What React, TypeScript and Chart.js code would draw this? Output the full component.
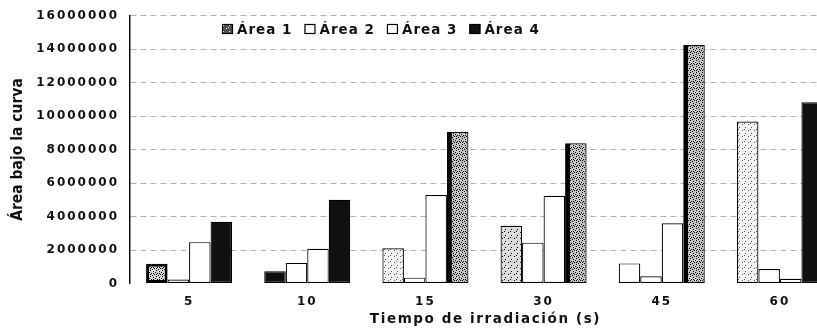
import { useEffect, useRef } from 'react';
import { Chart, registerables } from 'chart.js';

Chart.register(...registerables);

// Irradiation times (s) and the area under the curve for each of the four peaks
const categories = ['5', '10', '15', '30', '45', '60'];
const seriesLabels = ['Área 1', 'Área 2', 'Área 3', 'Área 4'];
const area1 = [1180000, 730000, 2100000, 3450000, 1200000, 9670000];
const area2 = [240000, 1230000, 350000, 2440000, 430000, 870000];
const area3 = [2470000, 2070000, 5280000, 5240000, 3600000, 280000];
const area4 = [3680000, 5000000, 9060000, 8370000, 14240000, 10820000];
const yMax = 16000000;
const yStep = 2000000;

const xTitle = 'Tiempo de irradiación (s)';
const yTitle = 'Área bajo la curva';

const TICK_FONT = { family: '"DejaVu Sans", sans-serif', weight: 'bold' as const, size: 12 };

// Small repeating stipple used for the dotted fills
function stipple(bg: string, ink: string, dots: number[][]): CanvasPattern | string {
  const c = document.createElement('canvas');
  c.width = 6;
  c.height = 6;
  const g = c.getContext('2d');
  if (!g) return bg;
  g.fillStyle = bg;
  g.fillRect(0, 0, 6, 6);
  g.fillStyle = ink;
  dots.forEach(([x, y]) => g.fillRect(x, y, 1, 1));
  return g.createPattern(c, 'repeat') || bg;
}

const DOTS_DENSE = [[0, 0], [3, 1], [1, 3], [4, 4], [5, 2], [2, 5], [0, 4], [3, 3]];
const DOTS_SPARSE = [[1, 1], [4, 4], [0, 3]];

export default function App() {
  const canvasRef = useRef<HTMLCanvasElement | null>(null);

  useEffect(() => {
    const canvas = canvasRef.current;
    if (!canvas) return;

    const white = '#ffffff';
    const black = '#101010';
    const darkDots = stipple('#d4d4d4', '#000', DOTS_DENSE);
    const lightDots = stipple('#f4f4f4', '#555', DOTS_SPARSE);
    const greyDots = stipple('#dcdcdc', '#000', DOTS_SPARSE);
    const heavyDots = stipple('#c4c4c4', '#000', DOTS_DENSE);
    const legendDark = stipple('#505050', '#fff', DOTS_SPARSE);

    const thin = 1.2;
    const side = (left: number) => ({ left, top: thin, right: thin, bottom: thin });

    const fills = [
      [darkDots, black, lightDots, greyDots, white, lightDots],
      [white, white, white, white, white, white],
      [white, white, white, white, white, white],
      [black, black, heavyDots, heavyDots, heavyDots, black],
    ];
    const borders = [
      [3, thin, thin, thin, thin, thin],
      [thin, thin, thin, thin, thin, thin],
      [thin, thin, thin, thin, thin, thin],
      [thin, thin, side(5), side(5), side(5), thin],
    ];
    const legendFills = [legendDark, white, white, black];
    const values = [area1, area2, area3, area4];

    const frameText = {
      id: 'frameText',
      // the axis numbers are set wide, so spread their letters while the scales draw
      beforeDraw(chart: Chart) {
        (chart.ctx as any).letterSpacing = '2px';
      },
      beforeDatasetsDraw(chart: Chart) {
        (chart.ctx as any).letterSpacing = '0px';
      },
      afterDraw(chart: Chart) {
        const { ctx, chartArea } = chart;

        // vertical axis title
        ctx.save();
        (ctx as any).letterSpacing = '0px';
        ctx.font = 'bold 15.5px "Liberation Sans Narrow", "DejaVu Sans Condensed", sans-serif';
        ctx.fillStyle = '#111';
        ctx.textAlign = 'center';
        ctx.textBaseline = 'middle';
        ctx.translate(17.5, (chartArea.top + chartArea.bottom) / 2);
        ctx.rotate(-Math.PI / 2);
        ctx.fillText(yTitle, 0, 0);
        ctx.restore();

        // horizontal axis title, widely spaced
        ctx.save();
        ctx.font = 'bold 13.5px "DejaVu Sans", sans-serif';
        (ctx as any).letterSpacing = '1.6px';
        ctx.fillStyle = '#111';
        ctx.textAlign = 'center';
        ctx.textBaseline = 'middle';
        ctx.fillText(xTitle, (chartArea.left + chartArea.right) / 2 + 1, 319);
        ctx.restore();

        // legend row inside the plot
        ctx.save();
        ctx.font = 'bold 13.5px "DejaVu Sans", sans-serif';
        (ctx as any).letterSpacing = '1px';
        ctx.textAlign = 'left';
        ctx.textBaseline = 'middle';
        let x = chartArea.left + 92;
        const cy = 29;
        seriesLabels.forEach((label, i) => {
          ctx.fillStyle = legendFills[i] as any;
          ctx.fillRect(x, cy - 5, 11, 10);
          ctx.strokeStyle = '#000';
          ctx.lineWidth = 1.2;
          ctx.strokeRect(x + 0.5, cy - 4.5, 10, 9);
          ctx.fillStyle = '#111';
          ctx.fillText(label, x + 15, cy + 1);
          x += 15 + ctx.measureText(label).width + 12;
        });
        ctx.restore();
      },
    };

    const chart = new Chart(canvas, {
      type: 'bar',
      data: {
        labels: categories,
        datasets: seriesLabels.map((label, i) => ({
          label,
          data: values[i],
          backgroundColor: fills[i] as any,
          borderColor: '#000',
          borderWidth: borders[i] as any,
          borderSkipped: false,
          categoryPercentage: 0.728,
          barPercentage: 1,
        })),
      },
      options: {
        responsive: false,
        animation: false,
        layout: { padding: { top: 15.5, right: 6, left: 0, bottom: 0 } },
        plugins: {
          legend: { display: false },
          tooltip: { enabled: false },
          title: { display: false },
        },
        scales: {
          x: {
            grid: { display: false, drawTicks: false },
            border: { display: false },
            ticks: { font: TICK_FONT, color: '#111', padding: 11, maxRotation: 0 },
            afterFit: (scale: any) => {
              scale.height = 46.5;
            },
          },
          y: {
            min: 0,
            max: yMax,
            ticks: {
              stepSize: yStep,
              font: TICK_FONT,
              color: '#111',
              padding: 3,
              callback: (v: any) => String(v),
            },
            grid: {
              drawTicks: true,
              tickLength: 8,
              tickColor: 'rgba(0,0,0,0)',
              color: (c: any) => (c.tick && c.tick.value === 0 ? 'rgba(0,0,0,0)' : '#b3b3b3'),
              lineWidth: 1,
            },
            border: { display: true, color: '#111', width: 1.5, dash: [6, 4] },
            afterFit: (scale: any) => {
              scale.width = 130;
            },
          },
        },
      },
      plugins: [frameText],
    });

    return () => chart.destroy();
  }, []);

  return (
    <div
      style={{
        position: 'fixed',
        left: 0,
        top: 0,
        width: '817px',
        height: '330px',
        overflow: 'hidden',
        background: '#fff',
      }}
    >
      <canvas ref={canvasRef} width={845} height={330} style={{ display: 'block' }} />
    </div>
  );
}
